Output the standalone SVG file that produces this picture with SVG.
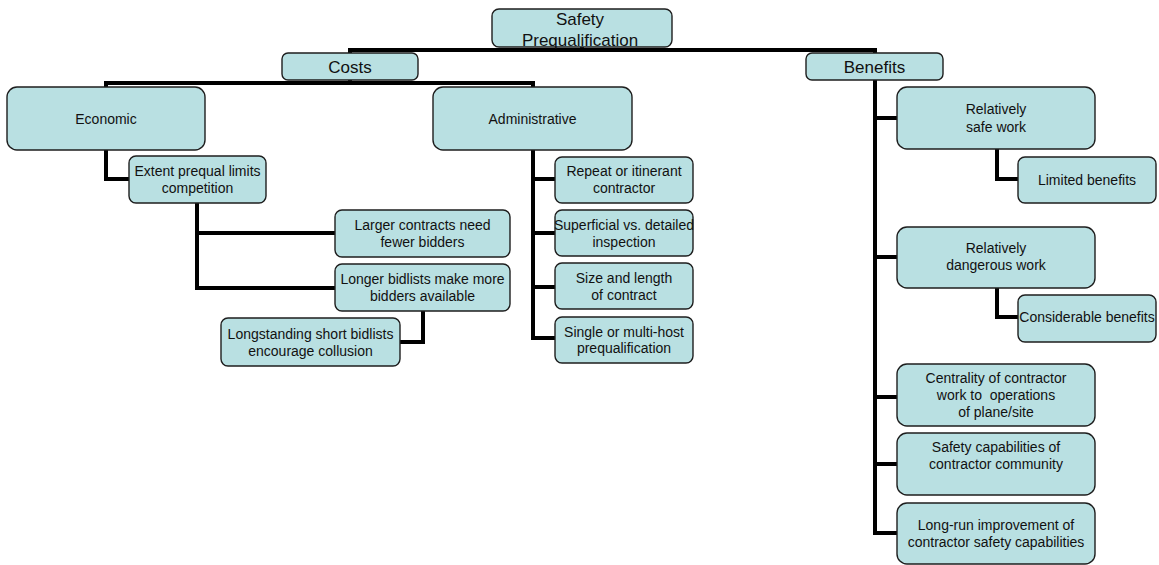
<svg xmlns="http://www.w3.org/2000/svg" width="1159" height="565" viewBox="0 0 1159 565">
<style>
.n rect{fill:#b9e0e2;stroke:#1e1e1e;stroke-width:1.4}
.n text{font-family:"Liberation Sans",Arial,sans-serif;font-size:14px;fill:#111;text-anchor:middle}
.n text.b{font-size:17px}
.c path{fill:none;stroke:#000;stroke-width:4;stroke-linejoin:miter;stroke-linecap:butt}
</style>
<rect width="1159" height="565" fill="#fff"/>
<g class="c" id="connectors">
<path d="M582,47V50"/>
<path d="M350,53V50H875V53"/>
<path d="M350,80V83"/>
<path d="M106,87V83H533V87"/>
<path d="M106,150V179H129"/>
<path d="M197,203V288H335M197,233H335"/>
<path d="M423,311V342H400"/>
<path d="M533,150V338H555M533,179H555M533,233H555M533,287H555"/>
<path d="M875,80V533H897M875,118H897M875,257H897M875,397H897M875,464H897"/>
<path d="M997,149V179H1018"/>
<path d="M997,288V317H1018"/>
</g>
<g class="n" id="safety"><rect x="492" y="9" width="180" height="38" rx="7"/><text class="b" x="580" y="25">Safety</text><text class="b" x="580" y="46">Prequalification</text></g>
<g class="n" id="costs"><rect x="282" y="53" width="136" height="27" rx="6"/><text class="b" x="350" y="73">Costs</text></g>
<g class="n" id="benefits"><rect x="806" y="53" width="137" height="27" rx="6"/><text class="b" x="874.5" y="73">Benefits</text></g>
<g class="n" id="economic"><rect x="7" y="87" width="198" height="63" rx="10"/><text x="106" y="124">Economic</text></g>
<g class="n" id="extent"><rect x="129" y="156" width="137" height="47" rx="7"/><text x="197.5" y="176">Extent prequal limits</text><text x="197.5" y="193">competition</text></g>
<g class="n" id="larger"><rect x="335" y="210" width="175" height="47" rx="7"/><text x="422.5" y="230">Larger contracts need</text><text x="422.5" y="247">fewer bidders</text></g>
<g class="n" id="longer"><rect x="335" y="264" width="175" height="47" rx="7"/><text x="422.5" y="284">Longer bidlists make more</text><text x="422.5" y="301">bidders available</text></g>
<g class="n" id="longstanding"><rect x="221" y="318" width="179" height="48" rx="7"/><text x="310.5" y="339">Longstanding short bidlists</text><text x="310.5" y="356">encourage collusion</text></g>
<g class="n" id="administrative"><rect x="433" y="87" width="199" height="63" rx="10"/><text x="532.5" y="124">Administrative</text></g>
<g class="n" id="repeat"><rect x="555" y="157" width="138" height="46" rx="7"/><text x="624" y="176">Repeat or itinerant</text><text x="624" y="193">contractor</text></g>
<g class="n" id="superficial"><rect x="555" y="210" width="138" height="46" rx="7"/><text x="624" y="230">Superficial vs. detailed</text><text x="624" y="247">inspection</text></g>
<g class="n" id="size"><rect x="555" y="263" width="138" height="46" rx="7"/><text x="624" y="283">Size and length</text><text x="624" y="300">of contract</text></g>
<g class="n" id="single"><rect x="555" y="317" width="138" height="46" rx="7"/><text x="624" y="337">Single or multi-host</text><text x="624" y="353">prequalification</text></g>
<g class="n" id="safe"><rect x="897" y="87" width="198" height="62" rx="10"/><text x="996" y="114">Relatively</text><text x="996" y="132">safe work</text></g>
<g class="n" id="limited"><rect x="1018" y="157" width="138" height="46" rx="7"/><text x="1087" y="185">Limited benefits</text></g>
<g class="n" id="dangerous"><rect x="897" y="227" width="198" height="61" rx="10"/><text x="996" y="253">Relatively</text><text x="996" y="270">dangerous work</text></g>
<g class="n" id="considerable"><rect x="1018" y="295" width="138" height="47" rx="7"/><text x="1087" y="322">Considerable benefits</text></g>
<g class="n" id="centrality"><rect x="897" y="364" width="198" height="62" rx="10"/><text x="996" y="383">Centrality of contractor</text><text x="996" y="400">work to&#160; operations</text><text x="996" y="417">of plane/site</text></g>
<g class="n" id="capabilities"><rect x="897" y="433" width="198" height="62" rx="10"/><text x="996" y="452">Safety capabilities of</text><text x="996" y="469">contractor community</text></g>
<g class="n" id="longrun"><rect x="897" y="503" width="198" height="61" rx="10"/><text x="996" y="530">Long-run improvement of</text><text x="996" y="547">contractor safety capabilities</text></g>
</svg>
